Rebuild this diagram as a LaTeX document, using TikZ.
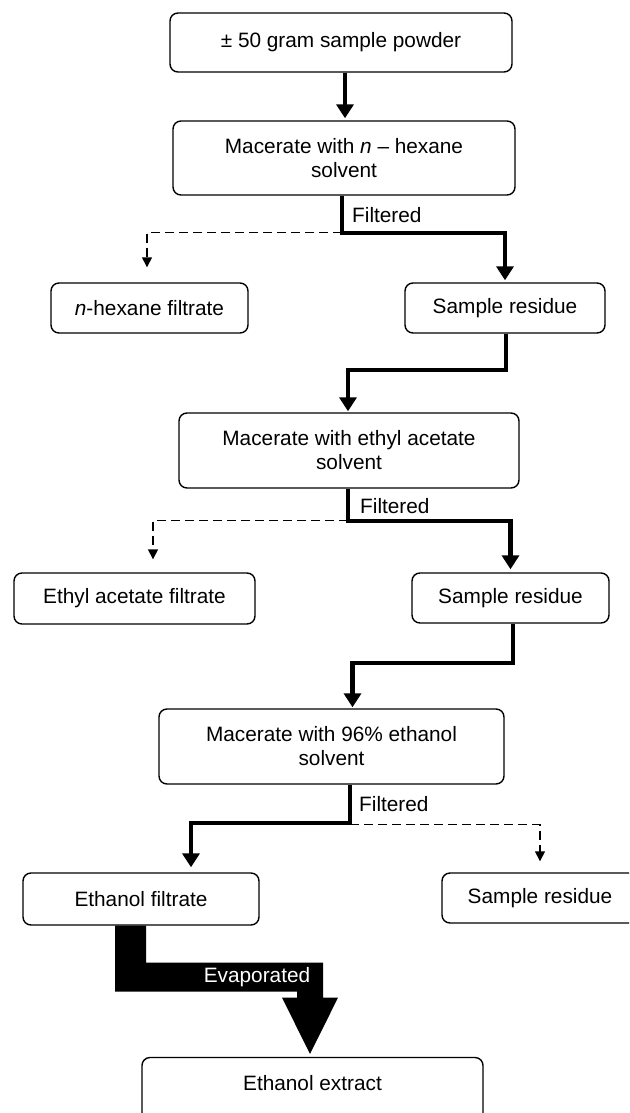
\documentclass[tikz,border=0pt]{standalone}
\usepackage{fontspec}
\setmainfont{Liberation Sans}
\usetikzlibrary{arrows.meta,calc}
\begin{document}
\begin{tikzpicture}[x=1pt,y=-1pt,
  txt/.style={font=\fontsize{20.8}{24}\selectfont},
  box/.style={txt, draw, line width=1.4pt, rounded corners=8pt, align=center, inner sep=0pt},
  flow/.style={line width=4.2pt, line join=miter, -{Triangle[length=14pt,width=17pt]}},
  side/.style={line width=1.4pt, dash pattern=on 9pt off 5pt, -{Triangle[length=10pt,width=10pt]}},
  lbl/.style={txt, anchor=west, inner sep=0pt}]
\useasboundingbox (0,0) rectangle (629,1113);
\clip (0,0) rectangle (629,1113);

% boxes
\node[box, minimum width=342pt, minimum height=59pt] (b1) at (341,42.5) {± 50 gram sample powder};
\node[box, minimum width=342pt, minimum height=74pt] (b2) at (344,158) {Macerate with \textit{n} – hexane\\solvent};
\node[box, minimum width=197pt, minimum height=50pt] (h1) at (149.5,308) {\textit{n}-hexane filtrate};
\node[box, minimum width=200pt, minimum height=50pt] (r1) at (505,308) {Sample residue};
\node[box, minimum width=340pt, minimum height=75pt] (b3) at (349,450.5) {Macerate with ethyl acetate\\solvent};
\node[box, minimum width=241pt, minimum height=51pt] (e1) at (134.5,598.5) {Ethyl acetate filtrate};
\node[box, minimum width=197pt, minimum height=50pt] (r2) at (510.5,598) {Sample residue};
\node[box, minimum width=345pt, minimum height=75pt] (b4) at (331.5,746.5) {Macerate with 96\% ethanol\\solvent};
\node[box, minimum width=236pt, minimum height=52pt] (ef) at (141,899) {Ethanol filtrate};
\node[box, minimum width=196pt, minimum height=50pt] (r3) at (540,898) {Sample residue};
\node[box, minimum width=341pt, minimum height=80pt, text height=15pt, text depth=30pt] (ex) at (312.5,1097.5) {Ethanol extract};

% step 1
\draw[flow, shorten >=2pt] ($(b1.south)+(4,0)$) -- ($(b2.north)+(1,0)$);

% first filtration
\coordinate (f1) at ($(b2.south)+(-2,37)$);
\draw[side, shorten >=15pt] (f1) -| ($(h1.north)+(-2.5,0)$);
\draw[flow, shorten >=2pt] ($(b2.south)+(-2,0)$) -- (f1) -| (r1.north);
\node[lbl] (fl1) at ($(f1)+(10,-18)$) {Filtered};

% residue 1 -> box 3
\draw[flow, shorten >=1pt] ($(r1.south)+(1,0)$) -- ($(r1.south)+(1,36)$) -| ($(b3.north)+(-1,0)$);

% second filtration
\coordinate (f2) at ($(b3.south)+(-1,32)$);
\draw[side, shorten >=13pt] (f2) -| ($(e1.north)+(18.5,0)$);
\draw[flow, shorten >=3pt] ($(b3.south)+(-1,0)$) -- (f2) -| (r2.north);
\node[lbl] (fl2) at ($(f2)+(12,-15)$) {Filtered};

% residue 2 -> box 4
\draw[flow, shorten >=1pt] ($(r2.south)+(2.5,0)$) -- ($(r2.south)+(2.5,39)$) -| ($(b4.north)+(21,0)$);

% third filtration
\coordinate (f3) at ($(b4.south)+(18.5,38)$);
\draw[side, shorten >=11pt] ($(f3)+(0,2)$) -| (r3.north);
\draw[flow, shorten >=5pt] ($(b4.south)+(18.5,0)$) -- (f3) -| ($(ef.north)+(50,0)$);
\node[lbl] (fl3) at ($(f3)+(9,-19)$) {Filtered};

% evaporation arrow
\fill ($(ef.south)+(-26,0)$) -- ($(ef.south)+(5,0)$) -- ($(ef.south)+(5,37)$)
  -- ($(ef.south)+(182,37)$) -- ($(ef.south)+(182,72)$) -- ($(ef.south)+(197,72)$)
  -- ($(ex.north)+(-2.5,-3)$) -- ($(ef.south)+(141,72)$) -- ($(ef.south)+(156,72)$)
  -- ($(ef.south)+(156,66)$) -- ($(ef.south)+(-26,66)$) -- cycle;
\node[txt, text=white, inner sep=0pt] (ev) at ($(ef.south)+(116,51)$) {Evaporated};
\end{tikzpicture}
\end{document}
